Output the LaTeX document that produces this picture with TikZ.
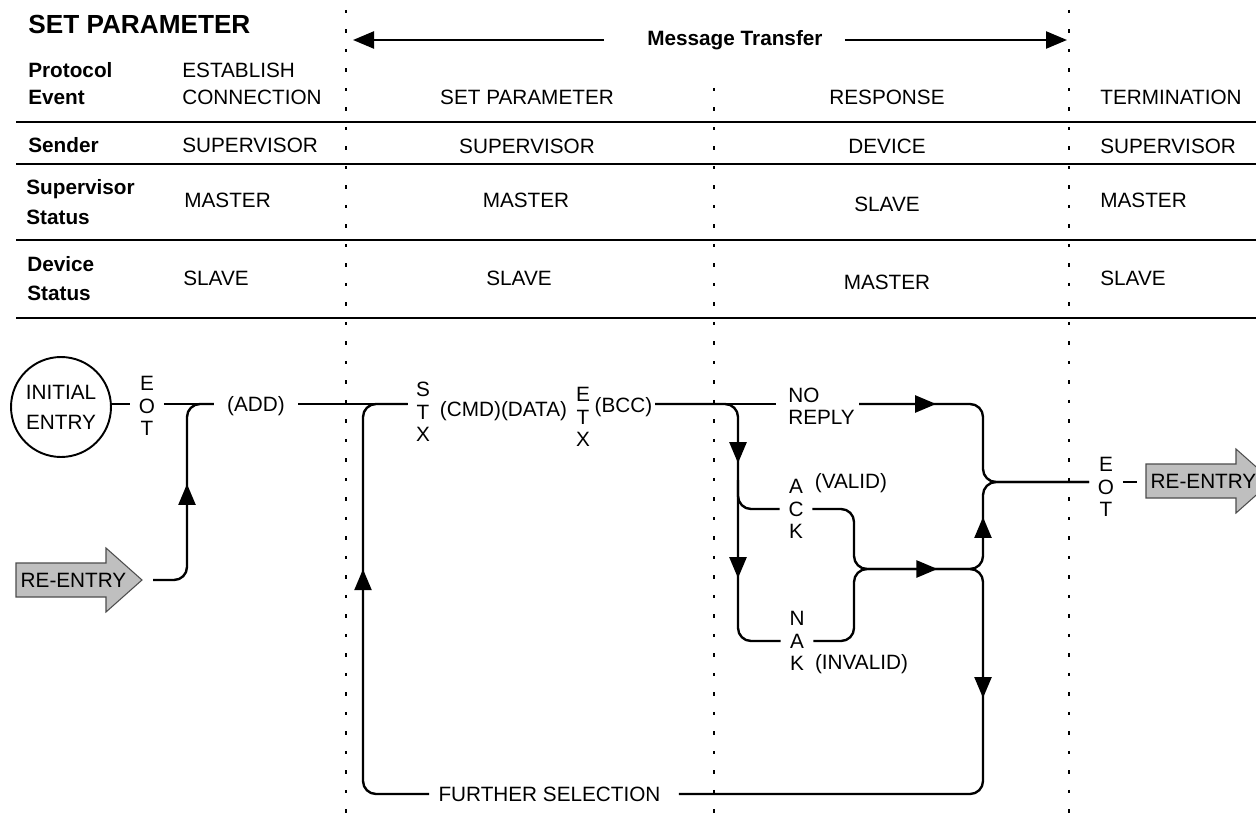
\documentclass[tikz,border=0pt]{standalone}
\usepackage{fontspec}
\setmainfont{Liberation Sans}
\usetikzlibrary{arrows.meta,calc,decorations.markings}

\tikzset{
  reentry/.pic={
    \draw[fill=gray!50, draw=black!70, line width=0.6pt]
      (0,-17) -- (90,-17) -- (90,-32) -- (126,0) -- (90,32) -- (90,17) -- (0,17) -- cycle;
    \node[cell] (-txt) at (57.5,0) {RE-ENTRY};
    \coordinate (-in)  at (-9,0);
    \coordinate (-out) at (137,0);
  }
}

\begin{document}
\begin{tikzpicture}[x=0.02cm, y=-0.02cm, >={Triangle[length=0.42cm, width=0.34cm]},
    rule/.style={line width=1.1pt},
    sep/.style={line width=0.7pt, dash pattern=on 0.07cm off 0.32cm},
    flow/.style={line width=1.35pt, rounded corners=0.26cm},
    midtip/.style={postaction={decorate, decoration={markings, mark=at position #1 with {\arrow{>}}}}},
    cell/.style={inner sep=0pt, align=left, font=\fontsize{11.8}{15.4}\selectfont},
    hdr/.style={cell, anchor=west, font=\fontsize{11.8}{15.4}\selectfont\bfseries},
    stack/.style={inner xsep=0.17cm, inner ysep=0pt, align=center, font=\fontsize{11.8}{12.8}\selectfont},
    entry/.style={circle, draw, line width=1.1pt, minimum size=2cm, inner sep=0pt, align=center, font=\fontsize{11.8}{17}\selectfont}]
    \useasboundingbox (0,0) rectangle (1256,814);

    % table
    \node[hdr, font=\fontsize{14.9}{16}\selectfont\bfseries] (title) at (28,24) {SET PARAMETER};
    \node[hdr]               (msg)   at (647,40)    {Message Transfer};
    \node[hdr]               (evtL)  at (28,83.5)   {Protocol\\Event};
    \node[hdr]               (sndL)  at (28,145)    {Sender};
    \node[hdr]               (supL)  at (26,202)    {Supervisor\\[1.7pt]Status};
    \node[hdr]               (devL)  at (27,278.5)  {Device\\[1.1pt]Status};

    \node[cell, anchor=west] (evt1)  at (182,83.5)  {ESTABLISH\\CONNECTION};
    \node[cell, anchor=west] (snd1)  at (182,145)   {SUPERVISOR};
    \node[cell, anchor=west] (sup1)  at (184,200)   {MASTER};
    \node[cell, anchor=west] (dev1)  at (183,278)   {SLAVE};

    \node[cell]              (evt2)  at (527,97)    {SET PARAMETER};
    \node[cell]              (snd2)  at (527,146)   {SUPERVISOR};
    \node[cell]              (sup2)  at (526,200)   {MASTER};
    \node[cell]              (dev2)  at (519,278)   {SLAVE};

    \node[cell]              (evt3)  at (887,97)    {RESPONSE};
    \node[cell]              (snd3)  at (887,146)   {DEVICE};
    \node[cell]              (sup3)  at (887,204)   {SLAVE};
    \node[cell]              (dev3)  at (887,282)   {MASTER};

    \node[cell, anchor=west] (evt4)  at (1100,97)   {TERMINATION};
    \node[cell, anchor=west] (snd4)  at (1100,146)  {SUPERVISOR};
    \node[cell, anchor=west] (sup4)  at (1100,200)  {MASTER};
    \node[cell, anchor=west] (dev4)  at (1100,278)  {SLAVE};

    \draw[rule] (16,122) -- (1256,122)  (16,164) -- (1256,164)
                (16,240) -- (1256,240)  (16,318) -- (1256,318);
    \draw[sep]  (346,10) -- (346,814);
    \draw[sep]  (714,88) -- (714,814);
    \draw[sep]  (1069,10) -- (1069,814);

    \coordinate (mtL) at (353,40);
    \coordinate (mtR) at (1067,40);
    \draw[flow, ->] ($(msg.west)+(-43,0)$) -- (mtL);
    \draw[flow, ->] ($(msg.east)+(22,0)$)  -- (mtR);

    % flow
    \coordinate (m)    at (0,404);
    \coordinate (j1)   at (187,404);
    \coordinate (j2)   at (363,404);
    \coordinate (j3)   at (738,404);
    \coordinate (jack) at (738,480);
    \coordinate (k1)   at (854,569);
    \coordinate (k2)   at (983,569);
    \coordinate (k3)   at (983,482);
    \coordinate (k4)   at (983,404);
    \coordinate (k5)   at (983,794);

    \node[entry]                        (init)    at (61,407)    {INITIAL\\ENTRY};
    \node[stack]                        (eot1)    at (147,406)   {E\\O\\T};
    \node[cell, inner xsep=0.26cm]      (add)     at (256,406)   {(ADD)};
    \node[stack, inner xsep=0.16cm]     (stx)     at (423,412)   {S\\T\\X};
    \node[cell]                         (cmd)     at (503.5,411) {(CMD)(DATA)};
    \node[stack, inner xsep=0pt]        (etx)     at (583,417)   {E\\T\\X};
    \node[cell, inner xsep=0.05cm]      (bcc)     at (623.5,407) {(BCC)};
    \node[stack, align=left, inner xsep=0pt, anchor=west] (noreply) at (788,406.5) {NO\\REPLY};
    \node[stack]                        (ack)     at (796,509)   {A\\C\\K};
    \node[cell]                         (valid)   at (851,483)   {(VALID)};
    \node[stack]                        (nak)     at (797,641)   {N\\A\\K};
    \node[cell]                         (invalid) at (861.5,664) {(INVALID)};
    \node[cell]                         (further) at (549.5,794) {FURTHER SELECTION};
    \node[stack]                        (eot2)    at (1106,487)  {E\\O\\T};

    \pic (reL) at (16,580)   {reentry};
    \pic (reR) at (1146,481) {reentry};

    \draw[flow] (init.east |- m) -- (eot1.west |- m);
    \draw[flow] (eot1.east |- m) -- (add.west |- m);
    \draw[flow, midtip=2.49cm] (reL-out) -- (j1 |- reL-out) -- (j1) -- (add.west |- m);
    \draw[flow] (add.east |- m) -- (stx.west |- m);
    \draw[flow, midtip=5.71cm] ($(further.west)+(-9,0)$) -- (j2 |- further.west) -- (j2) -- (stx.west |- m);

    \draw[flow] (bcc.east |- m) -- ($(noreply.west |- m)+(-12,0)$);
    \draw[flow, midtip=2.73cm, midtip=5.03cm] (bcc.east |- m) -- (j3) -- (j3 |- nak.west) -- (nak.west);
    \draw[flow] (jack) -- (jack |- ack.west) -- (ack.west);

    \draw[flow, midtip=1.54cm] ($(noreply.east |- m)+(4,0)$) -- (k4) -- (k3) -- (eot2.west |- k3);
    \draw[flow, midtip=3.48cm, midtip=5.32cm] (ack.east) -- (k1 |- ack.east) -- (k1) -- (k2) -- (k3) -- (eot2.west |- k3);
    \draw[flow, midtip=7.08cm] (nak.east) -- (k1 |- nak.east) -- (k1) -- (k2) -- (k5) -- ($(further.east)+(18,0)$);
    \draw[flow] (eot2.east |- k3) -- (reR-in |- k3);
\end{tikzpicture}
\end{document}
